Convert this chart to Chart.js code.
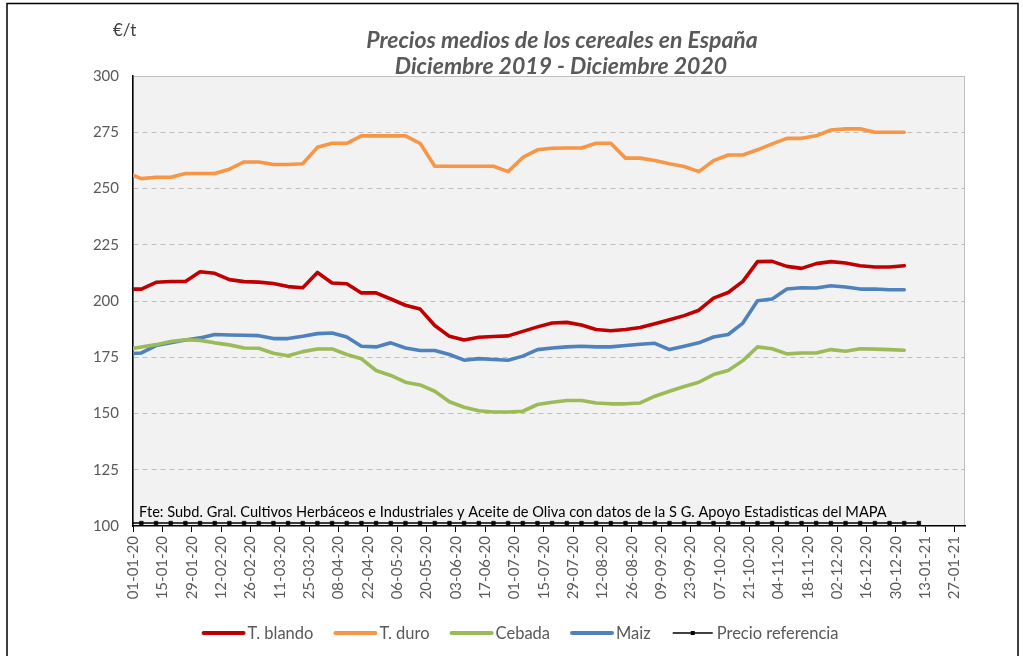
<!DOCTYPE html>
<html><head><meta charset="utf-8">
<script src="https://cdn.jsdelivr.net/npm/chart.js@4.4.1/dist/chart.umd.min.js"></script>
<style>html,body{margin:0;padding:0;background:#fff;}#wrap{width:1023px;height:656px;position:relative;}</style>
</head><body><div id="wrap"><canvas id="c" width="1023" height="656"></canvas></div>
<script>
// Weekly observation dates (dd-mm-yy)
const weekDates = ['29-12-19','05-01-20','12-01-20','19-01-20','26-01-20','02-02-20','09-02-20','16-02-20','23-02-20','01-03-20',
'08-03-20','15-03-20','22-03-20','29-03-20','05-04-20','12-04-20','19-04-20','26-04-20','03-05-20','10-05-20',
'17-05-20','24-05-20','31-05-20','07-06-20','14-06-20','21-06-20','28-06-20','05-07-20','12-07-20','19-07-20',
'26-07-20','02-08-20','09-08-20','16-08-20','23-08-20','30-08-20','06-09-20','13-09-20','20-09-20','27-09-20',
'04-10-20','11-10-20','18-10-20','25-10-20','01-11-20','08-11-20','15-11-20','22-11-20','29-11-20','06-12-20',
'13-12-20','20-12-20','27-12-20','03-01-21','10-01-21'];
// Axis tick labels
const tickLabels = ['01-01-20','15-01-20','29-01-20','12-02-20','26-02-20','11-03-20','25-03-20','08-04-20','22-04-20','06-05-20',
'20-05-20','03-06-20','17-06-20','01-07-20','15-07-20','29-07-20','12-08-20','26-08-20','09-09-20','23-09-20',
'07-10-20','21-10-20','04-11-20','18-11-20','02-12-20','16-12-20','30-12-20','13-01-21','27-01-21'];
const axisStart = '01-01-20';
const axisEnd = '01-02-21';
// Series (€/t)
const tBlando = [205.3,205.3,208.3,208.7,208.7,213.0,212.3,209.5,208.6,208.4,
207.8,206.4,205.9,212.7,208.0,207.7,203.6,203.6,200.9,198.1,
196.4,189.1,184.3,182.7,183.9,184.2,184.5,186.5,188.5,190.2,
190.5,189.3,187.3,186.8,187.3,188.2,189.9,191.7,193.5,195.9,
201.3,203.8,208.7,217.5,217.6,215.4,214.5,216.6,217.5,216.9,
215.7,215.1,215.1,215.7];
const tDuro = [257.0,254.4,255.0,255.0,256.7,256.7,256.7,258.6,261.8,261.8,
260.7,260.7,261.0,268.3,270.1,270.1,273.4,273.4,273.4,273.4,
270.1,259.9,259.9,259.9,259.9,259.9,257.5,263.8,267.2,267.9,
268.0,268.0,270.1,270.1,263.5,263.5,262.4,261.0,259.8,257.5,
262.4,264.9,264.9,267.2,269.8,272.3,272.3,273.4,276.0,276.5,
276.5,275.0,275.0,275.0];
const cebada = [178.5,179.6,180.6,182.0,182.8,182.5,181.4,180.5,179.1,179.0,
176.8,175.7,177.5,178.7,178.7,176.2,174.3,169.1,166.9,163.9,
162.7,159.9,155.2,152.8,151.2,150.7,150.7,151.0,154.0,155.0,
155.8,155.8,154.7,154.3,154.3,154.7,157.7,159.9,162.0,163.9,
167.3,169.1,173.5,179.6,178.8,176.5,176.9,176.9,178.4,177.7,
178.8,178.6,178.4,178.1];
const maiz = [176.5,176.9,180.2,181.4,182.7,183.6,185.1,184.9,184.8,184.6,
183.3,183.3,184.3,185.5,185.8,184.0,179.9,179.6,181.4,179.1,
178.0,178.0,176.2,173.7,174.4,174.0,173.7,175.5,178.4,179.1,
179.6,179.9,179.6,179.6,180.2,180.8,181.2,178.4,179.9,181.4,
184.0,185.1,190.2,200.1,200.9,205.3,205.9,205.8,206.8,206.2,
205.3,205.3,205.0,205.0];
const precioReferencia = [101.31,101.31,101.31,101.31,101.31,101.31,101.31,101.31,101.31,101.31,
101.31,101.31,101.31,101.31,101.31,101.31,101.31,101.31,101.31,101.31,
101.31,101.31,101.31,101.31,101.31,101.31,101.31,101.31,101.31,101.31,
101.31,101.31,101.31,101.31,101.31,101.31,101.31,101.31,101.31,101.31,
101.31,101.31,101.31,101.31,101.31,101.31,101.31,101.31,101.31,101.31,
101.31,101.31,101.31,101.31,101.31];
const seriesNames = ['T. blando','T. duro','Cebada','Maiz','Precio referencia'];
const titleLines = ['Precios medios de los cereales en España','Diciembre 2019 - Diciembre 2020'];
const unitLabel = '€/t';
const sourceText = 'Fte: Subd. Gral. Cultivos Herbáceos e Industriales y Aceite de Oliva con datos de la S G. Apoyo Estadisticas del MAPA';

const FONT = 'Lato, "Open Sans", sans-serif';
const dayOf = s => { const [d,m,y] = s.split('-').map(Number); return (Date.UTC(2000+y, m-1, d) - Date.UTC(2020,0,1)) / 86400000; };
const tickValues = tickLabels.map(dayOf);
const toXY = arr => arr.map((v,i) => ({x: dayOf(weekDates[i]), y: v}));

const colors = ['#C00000','#F79646','#9BBB59','#4F81BD','#000000'];

const decor = {
  id: 'decor',
  beforeDraw(chart) {
    const {ctx, chartArea: a} = chart;
    ctx.save();
    ctx.fillStyle = '#fff';
    ctx.fillRect(0,0,chart.width,chart.height);
    ctx.fillStyle = '#F2F2F2';
    ctx.fillRect(a.left, a.top, a.right-a.left, a.bottom-a.top);
    ctx.strokeStyle = '#BFBFBF';
    ctx.lineWidth = 1;
    ctx.strokeRect(a.left+0.5, a.top+0.5, a.right-a.left-1, a.bottom-a.top-1);
    ctx.restore();
  },
  beforeDatasetsDraw(chart) {
    const {ctx, chartArea: a} = chart;
    ctx.save();
    ctx.fillStyle = '#000';
    ctx.font = '14.6px ' + FONT;
    ctx.textAlign = 'left';
    ctx.textBaseline = 'alphabetic';
    ctx.fillText(sourceText, a.left + 6, a.bottom - 9);
    ctx.restore();
  },
  afterDraw(chart) {
    const {ctx} = chart;
    ctx.save();
    // outer frame
    ctx.strokeStyle = '#000';
    ctx.lineWidth = 1.5;
    ctx.strokeRect(7, 3.5, 1011, 700);
    // titles
    ctx.fillStyle = '#595959';
    ctx.textAlign = 'center';
    ctx.font = 'italic bold 23px ' + FONT;
    ctx.fillText(titleLines[0], 562, 48);
    ctx.fillText(titleLines[1], 561, 74);
    // unit
    ctx.textAlign = 'left';
    ctx.font = '17px ' + FONT;
    ctx.fillStyle = '#404040';
    ctx.fillText(unitLabel, 113, 36);
    // legend
    ctx.font = '16.5px ' + FONT;
    const lineW = 40, gapT = 4, gapI = 22;
    const widths = seriesNames.map(n => ctx.measureText(n).width);
    const total = widths.reduce((s,w)=>s+lineW+gapT+w,0) + gapI*(seriesNames.length-1);
    let x = 521 - total/2;
    const y = 633;
    ctx.textBaseline = 'middle';
    seriesNames.forEach((n,i) => {
      ctx.strokeStyle = colors[i];
      ctx.lineWidth = i === 4 ? 1.5 : 4;
      ctx.lineCap = i === 4 ? 'butt' : 'round';
      ctx.beginPath();
      ctx.moveTo(x, y); ctx.lineTo(x+lineW, y); ctx.stroke();
      if (i === 4) { ctx.fillStyle = '#000'; ctx.fillRect(x+lineW/2-2, y-2, 4, 4); }
      ctx.fillStyle = '#595959';
      ctx.fillText(n, x+lineW+gapT, y+1);
      x += lineW + gapT + widths[i] + gapI;
    });
    ctx.restore();
  }
};

const lineDs = (i, arr) => ({label: seriesNames[i], data: toXY(arr), borderColor: colors[i], backgroundColor: colors[i],
  borderWidth: 3.6, pointRadius: 0, tension: 0, clip: 0, borderCapStyle: 'round', borderJoinStyle: 'round'});

new Chart(document.getElementById('c'), {
  type: 'line',
  data: { datasets: [
    lineDs(0, tBlando), lineDs(1, tDuro), lineDs(2, cebada), lineDs(3, maiz),
    {label: seriesNames[4], data: toXY(precioReferencia), borderColor: '#000', backgroundColor: '#000', borderWidth: 1.5,
     pointRadius: 2.6, pointStyle: 'rect', pointBorderWidth: 0.5, pointBorderColor: '#000', pointBackgroundColor: '#000', tension: 0, clip: 0}
  ]},
  options: {
    responsive: false, animation: false, devicePixelRatio: 1,
    layout: {padding: {left: 0, right: 58, top: 76, bottom: 30}},
    plugins: {legend: {display: false}, title: {display: false}, tooltip: {enabled: false}},
    scales: {
      x: {type: 'linear', min: dayOf(axisStart), max: dayOf(axisEnd),
        afterFit(s) { s.height = 100; },
        afterBuildTicks(s) { s.ticks = tickValues.map(v => ({value: v})); },
        ticks: {autoSkip: false, minRotation: 90, maxRotation: 90, padding: 4, color: '#595959',
          font: {family: FONT, size: 15}, callback: (v, i) => tickLabels[i]},
        grid: {drawOnChartArea: false, drawTicks: true, tickLength: 6, color: '#000', tickColor: '#000', lineWidth: 1},
        border: {color: '#000', width: 1.5}},
      y: {min: 100, max: 300,
        afterFit(s) { s.width = 133; },
        ticks: {stepSize: 25, padding: 14, color: '#595959', font: {family: FONT, size: 15}},
        grid: {drawTicks: false, lineWidth: 1,
          color: c => (c.tick && (c.tick.value === 100 || c.tick.value === 300)) ? 'rgba(0,0,0,0)' : '#BFBFBF'},
        border: {color: '#000', width: 1.5, dash: [5, 4]}}
    }
  },
  plugins: [decor]
});
</script>
</body></html>
